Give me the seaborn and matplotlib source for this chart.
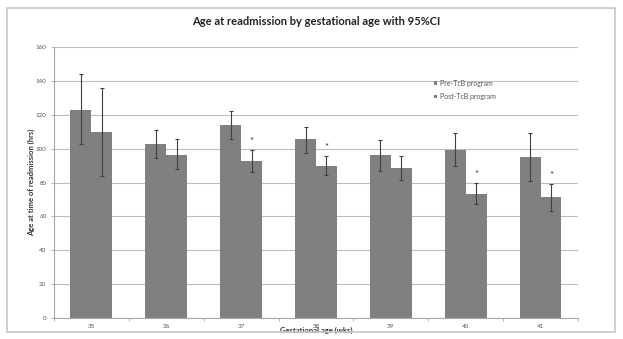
import matplotlib
matplotlib.use("Agg")
import matplotlib.pyplot as plt
import seaborn as sns
import pandas as pd
import numpy as np
from matplotlib.patches import Rectangle

weeks = ["35", "36", "37", "38", "39", "40", "41"]
pre_mean = [123, 102.5, 114, 106, 96.5, 99, 95]
pre_lo = [102.5, 94.5, 105.5, 97.5, 87, 89.5, 81]
pre_hi = [144, 111, 122, 113, 105, 109, 109]
post_mean = [110, 96.5, 92.5, 90, 88.5, 73.5, 71.5]
post_lo = [84, 88, 86, 84.5, 81.5, 67.5, 63]
post_hi = [136, 105.5, 99.5, 95.5, 95.5, 80, 79]
significant = [False, False, True, True, False, True, True]
series = ["Pre-TcB program", "Post-TcB program"]

sns.set_theme(style="white")
plt.rcParams['font.family'] = ['Lato', 'DejaVu Sans']

df = pd.DataFrame({
    "week": weeks * 2,
    "value": pre_mean + post_mean,
    "group": [series[0]] * len(weeks) + [series[1]] * len(weeks),
})

fig = plt.figure(figsize=(6.23, 3.39), dpi=100)
ax = fig.add_axes([0.0867, 0.062, 0.841, 0.799])

bar_color = "#808080"
sns.barplot(data=df, x="week", y="value", hue="group", hue_order=series,
            palette=[bar_color, bar_color], width=0.56, errorbar=None,
            saturation=1, ax=ax, edgecolor="none", linewidth=0)

# error bars at the bar centres
n = len(weeks)
patches = ax.patches[:2 * n]
for i, p in enumerate(patches):
    k = i % n
    cx = p.get_x() + p.get_width() / 2
    if i < n:
        m, lo, hi = pre_mean[k], pre_lo[k], pre_hi[k]
    else:
        m, lo, hi = post_mean[k], post_lo[k], post_hi[k]
    ax.errorbar(cx, m, yerr=[[m - lo], [hi - m]], fmt="none",
                ecolor="#404040", elinewidth=0.8, capsize=1.5, capthick=0.8)
    if i >= n and significant[k]:
        ax.text(cx, hi + 5, "*", ha="center", va="center", fontsize=7,
                color="#303030")

ax.set_ylim(0, 160)
ax.set_xlim(-0.5, n - 0.5)
ax.set_yticks(np.arange(0, 161, 20))
ax.yaxis.grid(True, color="#bdbdbd", linewidth=0.8)
ax.set_axisbelow(True)
for s in ["top", "right"]:
    ax.spines[s].set_visible(False)
for s in ["left", "bottom"]:
    ax.spines[s].set_color("#a8a8a8")
    ax.spines[s].set_linewidth(0.8)
ax.set_xticks(np.arange(-0.5, n, 1.0), minor=True)
ax.tick_params(axis="x", which="major", length=0, labelsize=4.5,
               labelcolor="#555555", pad=4)
ax.tick_params(axis="x", which="minor", length=2.5, color="#a8a8a8",
               width=0.6, direction="out", bottom=True)
ax.tick_params(axis="y", length=2.5, color="#a8a8a8", width=0.6,
               labelsize=4.5, labelcolor="#555555", left=True, pad=3)

ax.set_xlabel("Gestational age (wks)", fontsize=5.5, fontweight="bold",
              color="#333333", labelpad=-1)
ax.set_ylabel("Age at time of readmission (hrs)", fontsize=5.5, fontweight="bold",
              color="#333333", labelpad=0)

leg = ax.legend(loc="upper left", bbox_to_anchor=(0.72, 0.89), frameon=False,
                fontsize=5, handlelength=0.4, handleheight=0.4,
                handletextpad=0.4, labelspacing=0.9, borderaxespad=0)
for t in leg.get_texts():
    t.set_color("#555555")

fig.text(0.507, 0.936, "Age at readmission by gestational age with 95%CI",
         ha="center", va="center", fontsize=8, fontweight="bold",
         color="#222222")

fig.patches.append(Rectangle((0.012, 0.02), 0.975, 0.955,
                             transform=fig.transFigure, fill=False,
                             edgecolor="#c8c8c8", linewidth=1.2))

fig.savefig("out.png", dpi=100)
